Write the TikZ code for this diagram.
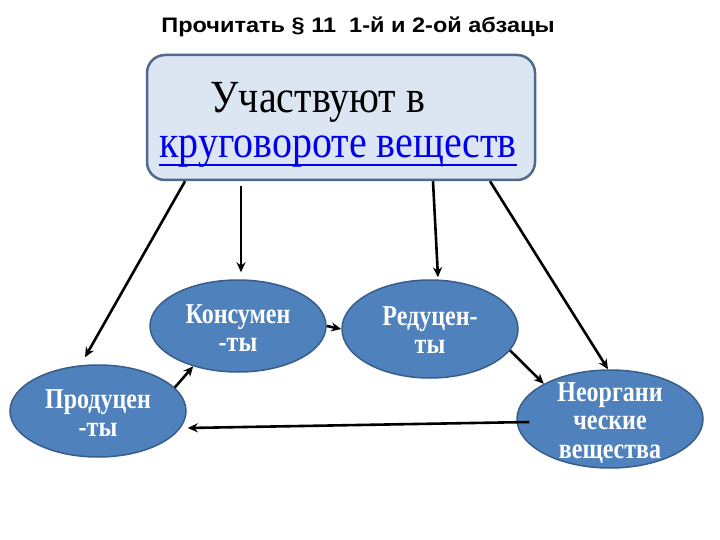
\documentclass[tikz,border=0pt]{standalone}
\usepackage{fontspec}
\setmainfont{Liberation Serif}
\newfontfamily\arialf{Liberation Sans}
\usetikzlibrary{shapes.geometric,arrows.meta,calc}
\definecolor{ellfill}{HTML}{4F81BD}
\definecolor{elldraw}{HTML}{385D8A}
\definecolor{boxfill}{HTML}{DCE6F2}
\definecolor{boxdraw}{HTML}{4F6A8C}
\definecolor{linkblue}{HTML}{0000EE}
\begin{document}
\begin{tikzpicture}[x=1pt,y=-1pt,
  ell/.style={ellipse, fill=ellfill, draw=elldraw, line width=1.5pt, inner sep=0pt},
  elltext/.style={text=white, inner sep=0pt, yscale=1.2, transform shape, font=\fontsize{24}{24}\selectfont\bfseries, align=center},
  bigtext/.style={inner sep=0pt, anchor=base, yscale=1.15, transform shape, font=\fontsize{40}{44}\selectfont},
  conn/.style={line width=2.6pt, -{Stealth[length=10pt,width=9pt]}}]
\useasboundingbox (0,0) rectangle (720,540);
\node[font=\arialf\bfseries\fontsize{21}{24}\selectfont, xscale=1.12, transform shape] (title) at (358,27) {Прочитать § 11\ \ 1-й и 2-ой абзацы};
\node[draw=boxdraw, fill=boxfill, line width=2.5pt, rounded corners=18pt,
      minimum width=388pt, minimum height=125pt] (top) at (341,117.5) {};
\node[bigtext] (t1) at (318,113) {Участвуют в};
\node[bigtext, text=linkblue] (t2) at (338,158) {круговороте веществ};
\draw[linkblue, line width=1.6pt] ([yshift=-7pt]t2.base west) -- ([yshift=-7pt]t2.base east);

\node[ell, minimum width=176pt, minimum height=92pt] (kons) at (238,326) {};
\node[elltext] (konsT) at (238,328) {Консумен\\-ты};
\node[ell, minimum width=176pt, minimum height=92pt] (prod) at (98,411) {};
\node[elltext] (prodT) at (98,413) {Продуцен\\-ты};
\node[ell, minimum width=176pt, minimum height=98pt] (redu) at (430,329) {};
\node[elltext] (reduT) at (430,330) {Редуцен-\\ты};
\node[ell, minimum width=186pt, minimum height=98pt] (neorg) at (610,419) {};
\node[elltext] (neorgT) at (610,423) {Неоргани\\ческие\\вещества};

\draw[conn] ([xshift=-156pt]top.south) -- ([xshift=-13pt,yshift=7pt]prod.north);
\draw[conn] ([xshift=-100pt,yshift=-5pt]top.south) -- ([xshift=3pt,yshift=7pt]kons.north);
\draw[conn] ([xshift=92pt]top.south) -- ([xshift=8pt,yshift=2pt]redu.north);
\draw[conn] ([xshift=149pt]top.south) -- ([xshift=-2pt]neorg.north);
\draw[conn] (kons.east) -- (redu.west);
\draw[conn] (prod.17) -- (kons.222);
\draw[conn] (redu.-15) -- (neorg.152);
\draw[conn] ([xshift=13pt,yshift=-3pt]neorg.west) -- ([xshift=1pt,yshift=-17pt]prod.east);
\end{tikzpicture}
\end{document}
